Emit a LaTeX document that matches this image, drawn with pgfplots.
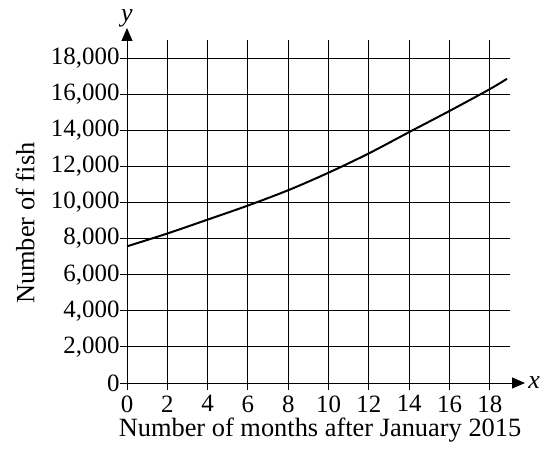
\documentclass[border=0pt]{standalone}
\usepackage{fontspec}
\setmainfont{Liberation Serif}
\usepackage{pgfplots}
\pgfplotsset{compat=1.18}
\usetikzlibrary{arrows.meta}
\begin{document}
\begin{tikzpicture}
\begin{axis}[
  scale only axis, width=383bp, height=343bp,
  xmin=0, xmax=19, ymin=0, ymax=19000,
  axis lines=left,
  clip=false,
  axis line style={black, line width=0.9bp},
  x axis line style={-{Triangle[length=13bp,width=11bp]}, shorten >=-15bp},
  y axis line style={-{Triangle[length=13bp,width=11bp]}, shorten >=-12bp},
  xtick={0,2,...,18}, ytick={0,2000,...,18000},
  grid=major, grid style={black, line width=0.9bp},
  tick style={black, line width=0.9bp},
  tick align=outside, major tick length=7bp,
  scaled y ticks=false,
  /pgf/number format/.cd, 1000 sep={,}, assume math mode=true,
  /pgfplots/.cd,
  tick label style={font=\fontsize{25}{29}\selectfont},
  yticklabel style={xshift=3bp},
  xticklabel style={yshift=-2bp},
  label style={font=\fontsize{26.5}{30}\selectfont},
  xlabel={Number of months after January 2015},
  ylabel={Number of fish},
  xlabel style={at={(axis description cs:0.504,-0.137)}, anchor=center},
  ylabel style={at={(axis description cs:-0.266,0.466)}, anchor=center, rotate=0},
]
\addplot[black, line width=2bp, smooth] coordinates {
  (0,7570) (2,8280) (4,9050) (6,9830) (8,10680) (10,11650)
  (12,12720) (14,13900) (16,15070) (18,16280) (18.85,16850)
};
\node[font=\fontsize{26}{30}\itshape] at (rel axis cs:0,1) [yshift=22bp] {y};
\node[font=\fontsize{26}{30}\itshape] at (rel axis cs:1,0) [xshift=24bp] {x};
\end{axis}
\path (current axis.south west) ++(-127bp,-74bp) rectangle ++(551bp,457bp);
\end{tikzpicture}
\end{document}
